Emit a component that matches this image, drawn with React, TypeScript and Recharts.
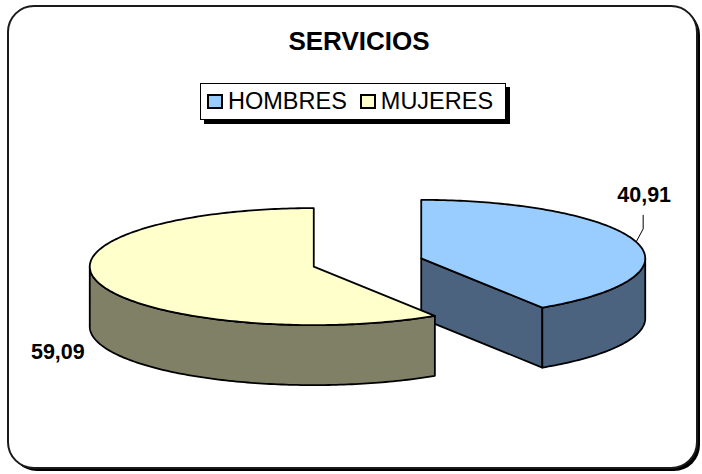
import {PieChart, Pie, Cell, Legend} from "recharts";

const categories = ["HOMBRES", "MUJERES"];
const values = [40.91, 59.09];
const topColors = ["#99CCFF", "#FFFFCC"];
const sideColors = ["#4C6380", "#808066"];

const data = categories.map((name, i) => ({name, value: values[i]}));

// fake 3D projection of the pie
const CX = 367.5;
const CY = 262.5;
const RX = 224;
const RY = 58.5;
const DEPTH = 60;
const EXPLODE = 56;
const FONT = "Arial, 'Liberation Sans', sans-serif";

const rad = (a: number) => (a * Math.PI) / 180;

function Slice3D(props: any) {
  const {startAngle, endAngle, index, value} = props;
  const mid = (startAngle + endAngle) / 2;
  const cx = CX + EXPLODE * Math.cos(rad(mid));
  const cy = CY - EXPLODE * (RY / RX) * Math.sin(rad(mid));
  const s = Math.max(startAngle, endAngle);
  const e = Math.min(startAngle, endAngle);
  const P = (a: number, dy = 0) => [cx + RX * Math.cos(rad(a)), cy - RY * Math.sin(rad(a)) + dy];
  const arc = (from: number, to: number, dy = 0) => {
    const n = Math.max(2, Math.ceil(Math.abs(to - from)));
    const pts: string[] = [];
    for (let i = 0; i <= n; i++) {
      const p = P(from + ((to - from) * i) / n, dy);
      pts.push(`${p[0].toFixed(2)},${p[1].toFixed(2)}`);
    }
    return pts.join(" L");
  };

  const faces: string[] = [];
  [e, s].forEach((a, k) => {
    const c = Math.cos(rad(a));
    if ((k === 0 && c > 0.001) || (k === 1 && c < -0.001)) {
      const p = P(a);
      faces.push(`M${cx},${cy} L${p[0]},${p[1]} L${p[0]},${p[1] + DEPTH} L${cx},${cy + DEPTH} Z`);
    }
  });

  const sides: string[] = [];
  [-2, -1, 0, 1].forEach((n) => {
    const a0 = Math.max(e, -180 + 360 * n);
    const a1 = Math.min(s, 360 * n);
    if (a1 > a0) sides.push(`M${arc(a0, a1)} L${arc(a1, a0, DEPTH)} Z`);
  });

  const top = `M${cx},${cy} L${arc(s, e)} Z`;
  const m = P(mid);
  const txt = Number(value).toFixed(2).replace(".", ",");
  const stroke = {stroke: "#000", strokeWidth: 1.8, strokeLinejoin: "round" as const};

  return (
    <g>
      {faces.map((d, i) => <path key={`f${i}`} d={d} fill={sideColors[index]} {...stroke} />)}
      {sides.map((d, i) => <path key={`s${i}`} d={d} fill={sideColors[index]} {...stroke} />)}
      <path d={top} fill={topColors[index]} {...stroke} />
      {index === 0 ? (
        <g>
          <polyline points={`${m[0]},${m[1]} ${m[0] + 7},${m[1] - 13} ${m[0] + 7},${m[1] - 27}`} fill="none" stroke="#000" strokeWidth={1} />
          <text x={m[0] + 8} y={m[1] - 40} textAnchor="middle" fontFamily={FONT} fontWeight="bold" fontSize={21.5} fill="#000">{txt}</text>
        </g>
      ) : (
        <text x={m[0] - 41} y={m[1] + 76} textAnchor="middle" fontFamily={FONT} fontWeight="bold" fontSize={21.5} fill="#000">{txt}</text>
      )}
    </g>
  );
}

function LegendBox(props: any) {
  const payload = props.payload || [];
  return (
    <div style={{width: 304, height: 35, border: "1px solid #000", background: "#fff", boxShadow: "4px 4px 0 #000", display: "flex", alignItems: "center", fontFamily: FONT, fontSize: 23.5, color: "#000", boxSizing: "content-box"}}>
      {payload.map((p: any, i: number) => (
        <div key={p.value} style={{display: "flex", alignItems: "center", marginLeft: i === 0 ? 6 : 13}}>
          <span style={{display: "inline-block", width: 12, height: 11, border: "2px solid #000", background: topColors[i], marginRight: 5}} />
          <span style={{lineHeight: "35px"}}>{p.value}</span>
        </div>
      ))}
    </div>
  );
}

export default function App() {
  return (
    <div style={{position: "fixed", left: 0, top: 0, width: 702, height: 474, background: "#fff"}}>
      <svg width={702} height={474} style={{position: "absolute", left: 0, top: 0}}>
        <rect x={11} y={9} width={689} height={462} rx={26} fill="#000" />
        <rect x={8} y={6} width={689} height={462} rx={26} fill="#fff" stroke="#1a1a1a" strokeWidth={2} />
        <text x={359} y={50} textAnchor="middle" fontFamily={FONT} fontWeight="bold" fontSize={26} fill="#000">SERVICIOS</text>
      </svg>
      <div style={{position: "absolute", left: 0, top: 0}}>
        <PieChart width={702} height={474}>
          <Pie
            data={data}
            dataKey="value"
            nameKey="name"
            cx={CX}
            cy={CY}
            outerRadius={RX}
            startAngle={90}
            endAngle={-270}
            stroke="none"
            labelLine={false}
            label={Slice3D}
            isAnimationActive={false}
          >
            {data.map((_, i) => (
              <Cell key={`cell-${i}`} fill={topColors[i]} fillOpacity={0} stroke="none" />
            ))}
          </Pie>
          <Legend content={LegendBox} wrapperStyle={{position: "absolute", left: 200, top: 83, width: 310}} />
        </PieChart>
      </div>
    </div>
  );
}
